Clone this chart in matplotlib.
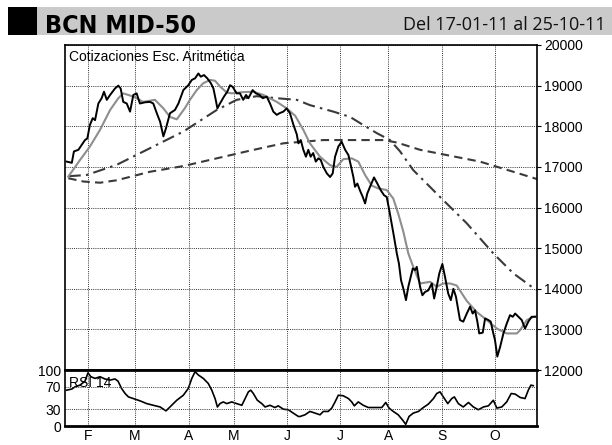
import matplotlib
matplotlib.use("Agg")
import matplotlib.pyplot as plt
from matplotlib.patches import Rectangle
from matplotlib import font_manager

# ---------------- data (x = trading-day index, 17-01-11 .. 25-10-11) ----------------
month_labels = ["F", "M", "A", "M", "J", "J", "A", "S", "O"]
month_pos = [9.8, 29.8, 52.8, 72.0, 94.5, 117.0, 137.6, 160.5, 183.0]
price_ticks = [12000, 13000, 14000, 15000, 16000, 17000, 18000, 19000, 20000]
rsi_ticks = [0, 30, 70, 100]

price_x = [0.7, 2.9, 3.8, 5.7, 7.1, 8.5, 9.5, 10.6, 11.8, 12.8, 14.2, 15.6, 16.6, 17.8, 19.2,
           21.3, 22.7, 23.7, 24.8, 26.3, 27.7, 29.1, 30.5, 31.9, 34.1, 36.2, 37.6, 39.1, 40.5,
           41.9, 43.0, 44.7, 46.8, 48.3, 50.4, 52.5, 54.0, 55.4, 56.8, 57.8, 59.2, 60.6, 62.1,
           63.2, 64.2, 64.9, 66.0, 67.7, 69.1, 70.3, 71.4, 73.1, 74.5, 75.9, 77.1, 78.1, 79.9,
           81.3, 82.8, 84.2, 85.9, 87.3, 88.7, 90.2, 91.3, 93.0, 94.4, 95.8, 97.2, 98.7, 99.4,
           100.4, 101.5, 102.6, 103.6, 104.6, 105.7, 106.8, 107.9, 108.9, 110.0, 111.5, 112.9,
           114.0, 115.0, 116.4, 117.8, 119.3, 120.7, 121.7, 122.8, 123.5, 124.5, 125.6, 126.8,
           127.8, 128.7, 129.9, 131.6, 133.0, 134.5, 135.9, 137.0, 138.1, 139.1, 140.1, 141.3,
           142.2, 143.1, 144.1, 145.2, 146.2, 148.1, 149.1, 149.8, 151.2, 152.2, 153.3, 154.7,
           156.2, 157.2, 158.3, 159.4, 160.7, 161.8, 163.2, 164.3, 165.4, 166.5, 168.2, 169.6,
           171.1, 172.5, 173.6, 174.6, 175.6, 176.4, 177.9, 178.9, 180.3, 181.3, 182.4, 183.1,
           184.1, 185.3, 186.7, 188.1, 189.5, 190.7, 191.7, 193.1, 194.5, 195.9, 197.3, 198.7,
           200.2]
price_y = [17130, 17100, 17380, 17420, 17540, 17660, 17700, 18030, 18200, 18150, 18560, 18690,
           18850, 18650, 18770, 18930, 19000, 18930, 18600, 18560, 18360, 18770, 18810, 18560,
           18590, 18600, 18560, 18320, 18110, 17750, 17950, 18320, 18400, 18560, 18890, 19010,
           19140, 19180, 19300, 19220, 19260, 19180, 19060, 18930, 18650, 18440, 18560, 18730,
           18850, 19010, 18970, 18810, 18810, 18650, 18770, 18690, 18890, 18810, 18770, 18690,
           18730, 18560, 18360, 18280, 18320, 18360, 18440, 18320, 18050, 17800, 17580, 17660,
           17420, 17250, 17420, 17250, 17340, 17130, 17210, 17170, 17000, 16840, 16750, 16840,
           17250, 17500, 17620, 17420, 17290, 17040, 16750, 16510, 16590, 16420, 16260, 16100,
           16340, 16510, 16740, 16590, 16420, 16300, 16260, 15930, 15610, 15280, 14870, 14620,
           14210, 14000, 13720, 14050, 14500, 14460, 14540, 14050, 13840, 13920, 13960, 14130,
           13760, 14050, 14380, 14610, 14300, 13880, 13720, 14000, 13800, 13230, 13190, 13390,
           13560, 13390, 13470, 13190, 12900, 12920, 13270, 13230, 13190, 12900, 12740, 12330,
           12570, 12900, 13140, 13350, 13310, 13390, 13310, 13230, 13020, 13190, 13310, 13310]

ma_short_x = [1.4, 6.4, 10.6, 14.9, 19.2, 22.7, 24.8, 29.1, 33.3, 38.3, 41.9, 44.7, 47.6, 51.1,
              53.2, 56.1, 58.9, 61.8, 63.9, 66.0, 68.9, 71.0, 75.9, 80.2, 84.5, 90.2, 94.4, 98.0,
              101.5, 104.3, 108.6, 112.9, 115.7, 118.5, 122.1, 124.9, 127.8, 130.6, 133.4, 137.0,
              139.8, 141.9, 144.1, 146.2, 148.3, 151.2, 155.5, 158.3, 161.1, 164.0, 166.8, 171.1,
              175.3, 179.6, 183.9, 188.1, 192.4, 193.8, 196.7, 199.5, 201.0]
ma_short_y = [16760, 17170, 17500, 17910, 18400, 18690, 18810, 18730, 18600, 18650, 18440, 18230,
              18170, 18450, 18650, 18890, 19060, 19140, 19120, 18980, 18830, 18810, 18840, 18850,
              18770, 18600, 18440, 18260, 17910, 17580, 17250, 17040, 17000, 17190, 17210, 17130,
              16800, 16540, 16470, 16430, 16220, 15850, 15400, 14870, 14540, 14130, 14170, 14050,
              14130, 14130, 14080, 13700, 13430, 13230, 13020, 12900, 12900, 12980, 13230, 13310,
              13320]

ma_mid_x = [1.4, 9.2, 22.0, 36.2, 50.4, 64.6, 73.1, 81.6, 90.2, 98.7, 104.3, 114.3, 121.4, 127.0,
            132.8, 138.4, 142.7, 148.3, 159.7, 171.1, 182.4, 190.9, 198.7, 201.0]
ma_mid_y = [16770, 16800, 17050, 17460, 17870, 18400, 18650, 18740, 18690, 18650, 18520, 18360,
            18230, 18030, 17830, 17660, 17380, 16920, 16260, 15610, 14870, 14380, 14050, 13970]

ma_long_x = [1.4, 7.8, 14.9, 22.0, 36.2, 50.4, 64.6, 78.8, 93.0, 110.0, 124.2, 135.6, 141.3,
             151.2, 162.6, 176.7, 190.9, 201.0]
ma_long_y = [16720, 16640, 16610, 16670, 16880, 17020, 17210, 17400, 17580, 17660, 17660, 17660,
             17600, 17420, 17290, 17130, 16880, 16700]

rsi_x = [0.7, 2.9, 4.3, 6.4, 8.5, 9.8, 11.0, 12.8, 14.9, 17.0, 19.2, 21.3, 22.6, 24.1, 25.6, 27.0,
         29.1, 31.9, 34.8, 37.6, 40.5, 43.0, 44.7, 47.6, 50.4, 52.5, 54.0, 55.4, 56.8, 58.9, 61.0,
         62.5, 63.9, 64.9, 66.0, 67.4, 68.9, 71.0, 73.1, 75.3, 76.7, 78.1, 79.1, 80.2, 81.9, 83.8,
         85.2, 87.3, 89.4, 90.8, 93.0, 95.1, 97.2, 99.4, 100.1, 102.2, 104.3, 106.5, 108.6, 110.0,
         112.1, 113.6, 115.0, 116.4, 118.5, 120.7, 122.1, 123.2, 124.9, 127.0, 129.2, 132.0,
         134.9, 136.6, 138.0, 139.8, 141.9, 143.7, 145.1, 146.5, 148.3, 150.5, 152.6, 154.7,
         156.9, 158.3, 159.7, 161.1, 163.0, 164.7, 165.8, 167.5, 169.6, 171.8, 173.9, 176.0,
         178.2, 180.3, 182.4, 183.9, 186.0, 188.1, 190.0, 191.7, 193.8, 195.9, 197.3, 198.4,
         199.4]
rsi_y = [64, 66, 70, 73, 80, 95, 88, 85, 88, 84, 82, 84, 80, 67, 58, 52, 49, 45, 40, 37, 34, 27,
         34, 46, 55, 67, 85, 97, 91, 85, 76, 64, 49, 34, 40, 43, 40, 43, 40, 37, 49, 61, 64, 58, 46,
         40, 34, 37, 33, 36, 30, 29, 23, 17, 17, 20, 26, 23, 20, 26, 26, 32, 43, 55, 54, 49, 43,
         36, 43, 37, 33, 33, 33, 42, 32, 26, 20, 11, 3, 17, 23, 26, 33, 39, 49, 58, 61, 52, 40,
         49, 52, 40, 34, 42, 34, 29, 34, 36, 46, 32, 34, 43, 58, 57, 51, 49, 64, 73, 72]

# ---------------- layout ----------------
W, H = 612, 445
plt.rcParams['font.family'] = ['Liberation Sans', 'DejaVu Sans']
fig = plt.figure(figsize=(W / 100, H / 100), dpi=100)


def rect(l, t, r, b):
    return [l / W, 1 - b / H, (r - l) / W, (b - t) / H]


# look for an installed bold condensed sans face for the title
title_fp = None
for fe in font_manager.fontManager.ttflist:
    nm = (fe.name + " " + str(fe.stretch)).lower()
    fn = fe.fname.lower()
    if ('condensed' in nm or 'narrow' in nm or 'condensed' in fn or 'narrow' in fn) \
            and ('bold' in fn or (isinstance(fe.weight, int) and fe.weight >= 600)) \
            and 'extra' not in fn and 'semi' not in fn and 'mono' not in fn and 'serif' not in fn:
        title_fp = font_manager.FontProperties(fname=fe.fname, size=18)
        break
if title_fp is None:
    title_fp = font_manager.FontProperties(family='DejaVu Sans', weight='bold', size=16)

# header band
fig.add_artist(Rectangle((37 / W, 1 - 35 / H), (W - 37) / W, 28 / H,
                         transform=fig.transFigure, facecolor='#cacaca', edgecolor='none'))
fig.add_artist(Rectangle((8 / W, 1 - 35 / H), 29 / W, 28 / H,
                         transform=fig.transFigure, facecolor='black', edgecolor='none'))
fig.text(45 / W, 1 - 33 / H, "BCN MID-50", fontproperties=title_fp, ha='left', va='baseline')
fig.text(606 / W, 1 - 30 / H, "Del 17-01-11 al 25-10-11", fontsize=13,
         family=['Open Sans', 'DejaVu Sans'], ha='right', va='baseline', color='#111111')

ax = fig.add_axes(rect(65, 45, 537, 370))
rax = fig.add_axes(rect(65, 370, 537, 426), sharex=ax)

grid_kw = dict(color='#333333', linestyle=(0, (1, 1.2)), linewidth=0.7)

# main panel
ax.plot(ma_long_x, ma_long_y, color='#3a3a3a', linewidth=1.5, linestyle=(0, (4, 2.5)))
ax.plot(ma_mid_x, ma_mid_y, color='#3a3a3a', linewidth=1.5, linestyle=(0, (6, 2.5, 1.2, 2.5)))
ax.plot(ma_short_x, ma_short_y, color='#8e8e8e', linewidth=1.5)
ax.plot(price_x, price_y, color='black', linewidth=1.4)
ax.set_xlim(0, 201)
ax.set_ylim(12000, 20000)
ax.set_yticks(price_ticks)
ax.yaxis.tick_right()
ax.tick_params(axis='y', labelsize=10, length=3, width=0.8, pad=2, direction='out')
ax.tick_params(axis='x', length=0, labelbottom=False)
ax.set_xticks(month_pos)
ax.grid(True, **grid_kw)
for s in ax.spines.values():
    s.set_linewidth(1.2)
ax.text(0.008, 0.985, "Cotizaciones Esc. Aritmética", transform=ax.transAxes,
        fontsize=10, ha='left', va='top')

# RSI panel
rax.plot(rsi_x, rsi_y, color='black', linewidth=1.2)
rax.set_ylim(0, 100)
rax.set_yticks(rsi_ticks)
rax.tick_params(axis='y', labelsize=10, length=0, pad=3)
rax.set_xticks(month_pos)
rax.set_xticklabels(month_labels)
rax.tick_params(axis='x', labelsize=10, length=0, pad=2)
for yv in rsi_ticks[1:3]:
    rax.axhline(yv, **grid_kw)
for xv in month_pos:
    rax.axvline(xv, **grid_kw)
for s in rax.spines.values():
    s.set_linewidth(1.2)
rax.spines['top'].set_linewidth(2.0)
rax.spines['bottom'].set_linewidth(2.0)
rax.text(0.008, 0.9, "RSI 14", transform=rax.transAxes, fontsize=10, ha='left', va='top')

fig.savefig("out.png", dpi=100)
